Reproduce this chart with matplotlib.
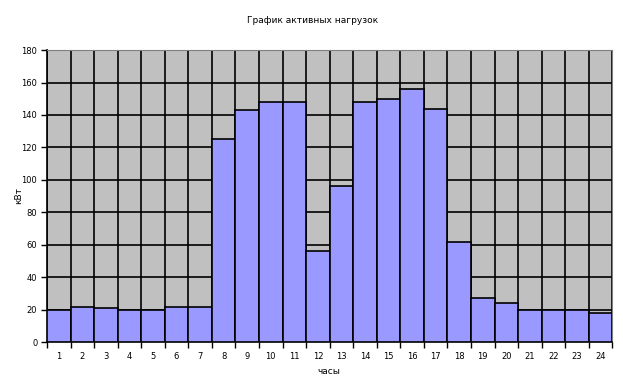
import numpy as np
import matplotlib
matplotlib.use('Agg')
from matplotlib import pyplot as plt

# данные: часы и нагрузка, кВт
hours = list(range(1, 25))
load = [20, 21.5, 21, 20, 20, 21.5, 21.5, 125, 143, 148, 148, 56,
        96, 148, 150, 156, 144, 61.5, 27.5, 24.5, 20, 20, 20, 18]
yticks = list(range(0, 181, 20))

fig = plt.figure(figsize=(6.23, 3.88), dpi=100)
ax = fig.add_axes([0.0754, 0.1178, 0.9074, 0.7532])
ax.set_facecolor('#C0C0C0')

ax.bar(hours, load, width=1.0, color='#9999FF', edgecolor='black',
       linewidth=1.2, zorder=3)

ax.set_xlim(0.5, 24.5)
ax.set_ylim(0, 180)
ax.set_yticks(yticks)
ax.set_yticklabels([str(v) for v in yticks], fontsize=6)

# подписи часов по центру, засечки на границах
ax.set_xticks(hours)
ax.set_xticklabels([str(h) for h in hours], fontsize=6)
ax.set_xticks(np.arange(0.5, 25, 1), minor=True)
ax.tick_params(axis='x', which='major', length=0, pad=7)
ax.tick_params(axis='x', which='minor', length=4, width=1, direction='out')
ax.tick_params(axis='y', length=4, width=1, direction='out', pad=3)

ax.grid(axis='y', color='black', linewidth=1.2, zorder=1)
ax.grid(axis='x', which='minor', color='black', linewidth=1.2, zorder=1)
ax.set_axisbelow(True)

ax.spines['top'].set_color('#808080')
ax.spines['right'].set_color('#808080')
ax.spines['left'].set_linewidth(1.2)
ax.spines['bottom'].set_linewidth(1.2)

fig.text(0.501, 0.948, 'График активных нагрузок', fontsize=6.5, ha='center', va='center')
fig.text(19 / 623, 1 - 195 / 388, 'кВт', fontsize=6.5, rotation=90, ha='center', va='center')
fig.text(329 / 623, 1 - 371 / 388, 'часы', fontsize=6.5, ha='center', va='center')

fig.savefig('out.png', dpi=100)
